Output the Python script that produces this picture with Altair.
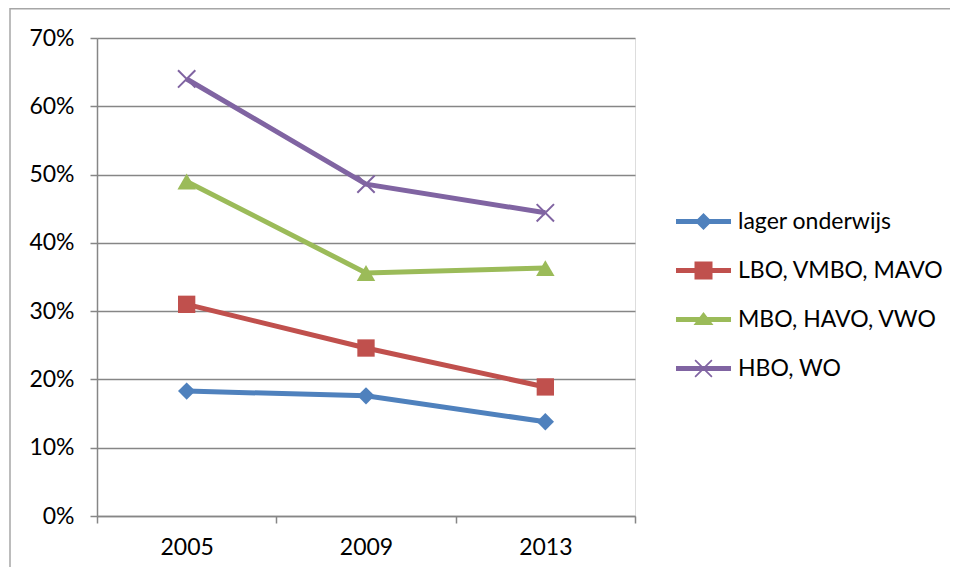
import altair as alt
import pandas as pd

years = ["2005", "2009", "2013"]
series = ["lager onderwijs", "LBO, VMBO, MAVO", "MBO, HAVO, VWO", "HBO, WO"]
lager = [0.183, 0.176, 0.138]
lbo = [0.310, 0.246, 0.189]
mbo = [0.490, 0.356, 0.363]
hbo = [0.640, 0.486, 0.444]
colors = ["#4F81BD", "#C0504D", "#9BBB59", "#8064A2"]

values = [lager, lbo, mbo, hbo]
rows = []
for s, vals in zip(series, values):
    for y, v in zip(years, vals):
        rows.append({"series": s, "year": y, "value": v})
df = pd.DataFrame(rows)

FONT = "Lato"
FS = 23
GRAY = "#868686"

x_enc = alt.X("year:N", sort=years, title=None,
              scale=alt.Scale(paddingInner=0, paddingOuter=0),
              axis=alt.Axis(labelAngle=0, tickBand="extent", grid=False,
                            domainColor=GRAY, tickColor=GRAY, tickSize=7,
                            domainWidth=1.5, tickWidth=1.5,
                            labelPadding=13, labelFontSize=FS, labelFont=FONT,
                            labelColor="black"))
y_enc = alt.Y("value:Q", title=None,
              scale=alt.Scale(domain=[0, 0.7], nice=False),
              axis=alt.Axis(format=".0%", values=[0, 0.1, 0.2, 0.3, 0.4, 0.5, 0.6, 0.7],
                            grid=True, gridColor=GRAY, gridWidth=1.5,
                            domainColor=GRAY, tickColor=GRAY, tickSize=7,
                            domainWidth=1.5, tickWidth=1.5,
                            labelPadding=16, labelFontSize=FS, labelFont=FONT,
                            labelColor="black"))

base = alt.Chart(df)

marker_specs = [
    dict(shape="diamond", filled=True, size=300),
    dict(shape="square", filled=True, size=300),
    dict(shape="triangle-up", filled=True, size=340),
    dict(shape="M-1,-1L1,1M-1,1L1,-1", filled=False, size=300, strokeWidth=2),
]

layers = []
for s, c in zip(series, colors):
    layers.append(base.transform_filter(alt.datum.series == s)
                  .mark_line(strokeWidth=5, color=c)
                  .encode(x=x_enc, y=y_enc))
for s, c, m in zip(series, colors, marker_specs):
    kw = dict(m)
    layers.append(base.transform_filter(alt.datum.series == s)
                  .mark_point(color=c, opacity=1, **kw)
                  .encode(x=x_enc, y=y_enc))

# legend symbols: line segment + marker as filled custom paths
line = "M-2.75,-0.25H2.75V0.25H-2.75Z"
a, d = 0.9, 0.12
xshape = (f"M{-a},{-a+d}L{-a+d},{-a}L0,{-d}L{a-d},{-a}L{a},{-a+d}L{d},0"
          f"L{a},{a-d}L{a-d},{a}L0,{d}L{-a+d},{a}L{-a},{a-d}L{-d},0Z")
legend_paths = [
    line + " M0,-0.85L0.85,0L0,0.85L-0.85,0Z",
    line + " M-0.9,-0.9H0.9V0.9H-0.9Z",
    line + " M0,-0.75L1,0.55H-1Z",
    line + " " + xshape,
]

leg = alt.Legend(title=None, orient="none", legendX=595, legendY=172,
                 symbolSize=400, symbolStrokeWidth=0, symbolOpacity=1,
                 labelFont=FONT, labelFontSize=FS, labelColor="black",
                 labelLimit=0, labelOffset=23, rowPadding=25, padding=0)

legend_layer = base.mark_point(filled=True, opacity=0).encode(
    x=x_enc, y=y_enc,
    color=alt.Color("series:N", sort=series,
                    scale=alt.Scale(domain=series, range=colors), legend=leg),
    shape=alt.Shape("series:N", sort=series,
                    scale=alt.Scale(domain=series, range=legend_paths), legend=leg),
)
layers.append(legend_layer)

border = alt.Chart(pd.DataFrame({"k": [0]})).mark_rect(
    fill=None, stroke="#a6a6a6", strokeWidth=1.5
).encode(x=alt.value(-87), x2=alt.value(1500), y=alt.value(-29.3), y2=alt.value(900))

chart = alt.layer(border, *layers).properties(
    width=538, height=478,
    autosize=alt.AutoSizeParams(type="none"),
    padding={"left": 89, "top": 30, "right": 315, "bottom": 51},
).configure_view(stroke=None).configure(background="white")

chart.save("out.html", embed_options={"renderer": "svg", "actions": False})
